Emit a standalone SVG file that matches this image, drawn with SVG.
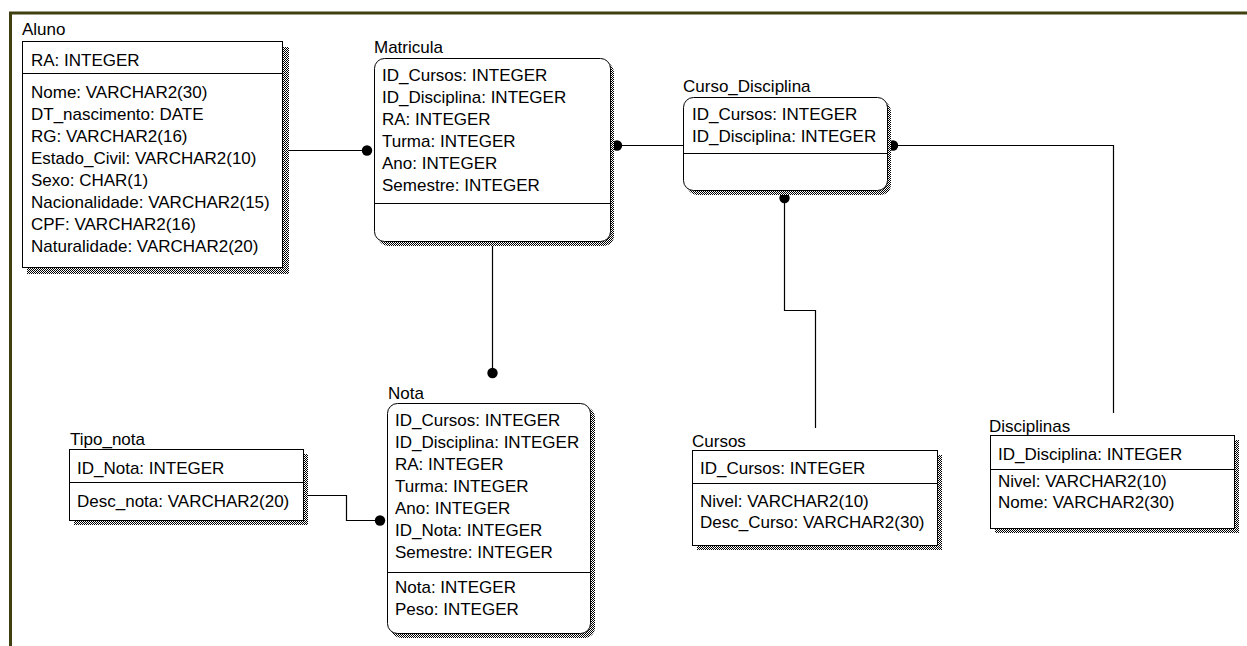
<svg xmlns="http://www.w3.org/2000/svg" width="1247" height="646" viewBox="0 0 1247 646">
<defs>
<pattern id="dith" patternUnits="userSpaceOnUse" width="2" height="2">
<rect width="2" height="2" fill="#ffffff"/>
<rect x="0" y="0" width="1" height="1" fill="#000000"/>
<rect x="1" y="1" width="1" height="1" fill="#000000"/>
</pattern>
</defs>
<style>
text { font-family: "Liberation Sans", Arial, sans-serif; font-size: 17px; fill: #000; }
.box { fill: #ffffff; stroke: #000; stroke-width: 1; }
.shadow { fill: url(#dith); stroke: none; }
.div { stroke: #000; stroke-width: 1; }
.conn { fill: none; stroke: #000; stroke-width: 1.2; }
.dot { fill: #000; }
.frame { fill: none; stroke: #3f3f0f; stroke-width: 3; }
</style>
<rect width="1247" height="646" fill="#ffffff"/>
<path class="frame" d="M10.5,646 V13 H1247"/>

<g id="connectors">
<path class="conn" d="M283,150.5 H367"/>
<circle class="dot" cx="367" cy="150.5" r="5.2"/>
<path class="conn" d="M617,145.5 H683"/>
<circle class="dot" cx="617" cy="145.5" r="5.2"/>
<path class="conn" d="M893,145.5 H1113.5 V413"/>
<circle class="dot" cx="893" cy="145.5" r="5.2"/>
<path class="conn" d="M784.5,198 V310.5 H815.5 V428"/>
<circle class="dot" cx="784.5" cy="198" r="5.2"/>
<path class="conn" d="M492.5,241 V373"/>
<circle class="dot" cx="492.5" cy="373" r="5.2"/>
<path class="conn" d="M303,495.5 H346.5 V520.5 H380"/>
<circle class="dot" cx="380" cy="520.5" r="5.2"/>
</g>

<g id="aluno">
<text x="22" y="35">Aluno</text>
<rect class="shadow" x="27" y="47" width="262" height="227"/>
<rect class="box" x="22.5" y="41.5" width="260" height="226"/>
<line class="div" x1="22.5" y1="73.5" x2="282.5" y2="73.5"/>
<text x="31" y="66">RA: INTEGER</text>
<text x="31" y="98">Nome: VARCHAR2(30)</text>
<text x="31" y="120">DT_nascimento: DATE</text>
<text x="31" y="142">RG: VARCHAR2(16)</text>
<text x="31" y="164">Estado_Civil: VARCHAR2(10)</text>
<text x="31" y="186">Sexo: CHAR(1)</text>
<text x="31" y="208">Nacionalidade: VARCHAR2(15)</text>
<text x="31" y="230">CPF: VARCHAR2(16)</text>
<text x="31" y="252">Naturalidade: VARCHAR2(20)</text>
</g>

<g id="matricula">
<text x="374" y="53">Matricula</text>
<rect class="shadow" x="378" y="62" width="236" height="184" rx="10"/>
<rect class="box" x="374.5" y="58.5" width="236" height="183" rx="10"/>
<line class="div" x1="374.5" y1="203.5" x2="610.5" y2="203.5"/>
<text x="382" y="81">ID_Cursos: INTEGER</text>
<text x="382" y="103">ID_Disciplina: INTEGER</text>
<text x="382" y="125">RA: INTEGER</text>
<text x="382" y="147">Turma: INTEGER</text>
<text x="382" y="169">Ano: INTEGER</text>
<text x="382" y="191">Semestre: INTEGER</text>
</g>

<g id="curso_disciplina">
<text x="683" y="92">Curso_Disciplina</text>
<rect class="shadow" x="687" y="101" width="204" height="94" rx="10"/>
<rect class="box" x="683.5" y="97.5" width="204" height="93" rx="10"/>
<line class="div" x1="683.5" y1="153.5" x2="887.5" y2="153.5"/>
<text x="692" y="120">ID_Cursos: INTEGER</text>
<text x="692" y="142">ID_Disciplina: INTEGER</text>
</g>

<g id="tipo_nota">
<text x="70" y="445">Tipo_nota</text>
<rect class="shadow" x="74" y="454" width="234" height="71"/>
<rect class="box" x="69.5" y="449.5" width="234" height="71"/>
<line class="div" x1="69.5" y1="482.5" x2="303.5" y2="482.5"/>
<text x="77" y="474">ID_Nota: INTEGER</text>
<text x="77" y="507">Desc_nota: VARCHAR2(20)</text>
</g>

<g id="nota">
<text x="388" y="399">Nota</text>
<rect class="shadow" x="391" y="407" width="204" height="231" rx="10"/>
<rect class="box" x="387.5" y="403.5" width="203" height="230" rx="10"/>
<line class="div" x1="387.5" y1="572.5" x2="590.5" y2="572.5"/>
<text x="395" y="426">ID_Cursos: INTEGER</text>
<text x="395" y="448">ID_Disciplina: INTEGER</text>
<text x="395" y="470">RA: INTEGER</text>
<text x="395" y="492">Turma: INTEGER</text>
<text x="395" y="514">Ano: INTEGER</text>
<text x="395" y="536">ID_Nota: INTEGER</text>
<text x="395" y="558">Semestre: INTEGER</text>
<text x="395" y="593">Nota: INTEGER</text>
<text x="395" y="615">Peso: INTEGER</text>
</g>

<g id="cursos">
<text x="692" y="447">Cursos</text>
<rect class="shadow" x="697" y="455" width="245" height="95"/>
<rect class="box" x="692.5" y="450.5" width="245" height="95"/>
<line class="div" x1="692.5" y1="483.5" x2="937.5" y2="483.5"/>
<text x="700" y="474">ID_Cursos: INTEGER</text>
<text x="700" y="507">Nivel: VARCHAR2(10)</text>
<text x="700" y="528">Desc_Curso: VARCHAR2(30)</text>
</g>

<g id="disciplinas">
<text x="989" y="432">Disciplinas</text>
<rect class="shadow" x="995" y="440" width="244" height="93"/>
<rect class="box" x="990.5" y="435.5" width="244" height="93"/>
<line class="div" x1="990.5" y1="469.5" x2="1234.5" y2="469.5"/>
<text x="998" y="460">ID_Disciplina: INTEGER</text>
<text x="998" y="487">Nivel: VARCHAR2(10)</text>
<text x="998" y="508">Nome: VARCHAR2(30)</text>
</g>
</svg>
